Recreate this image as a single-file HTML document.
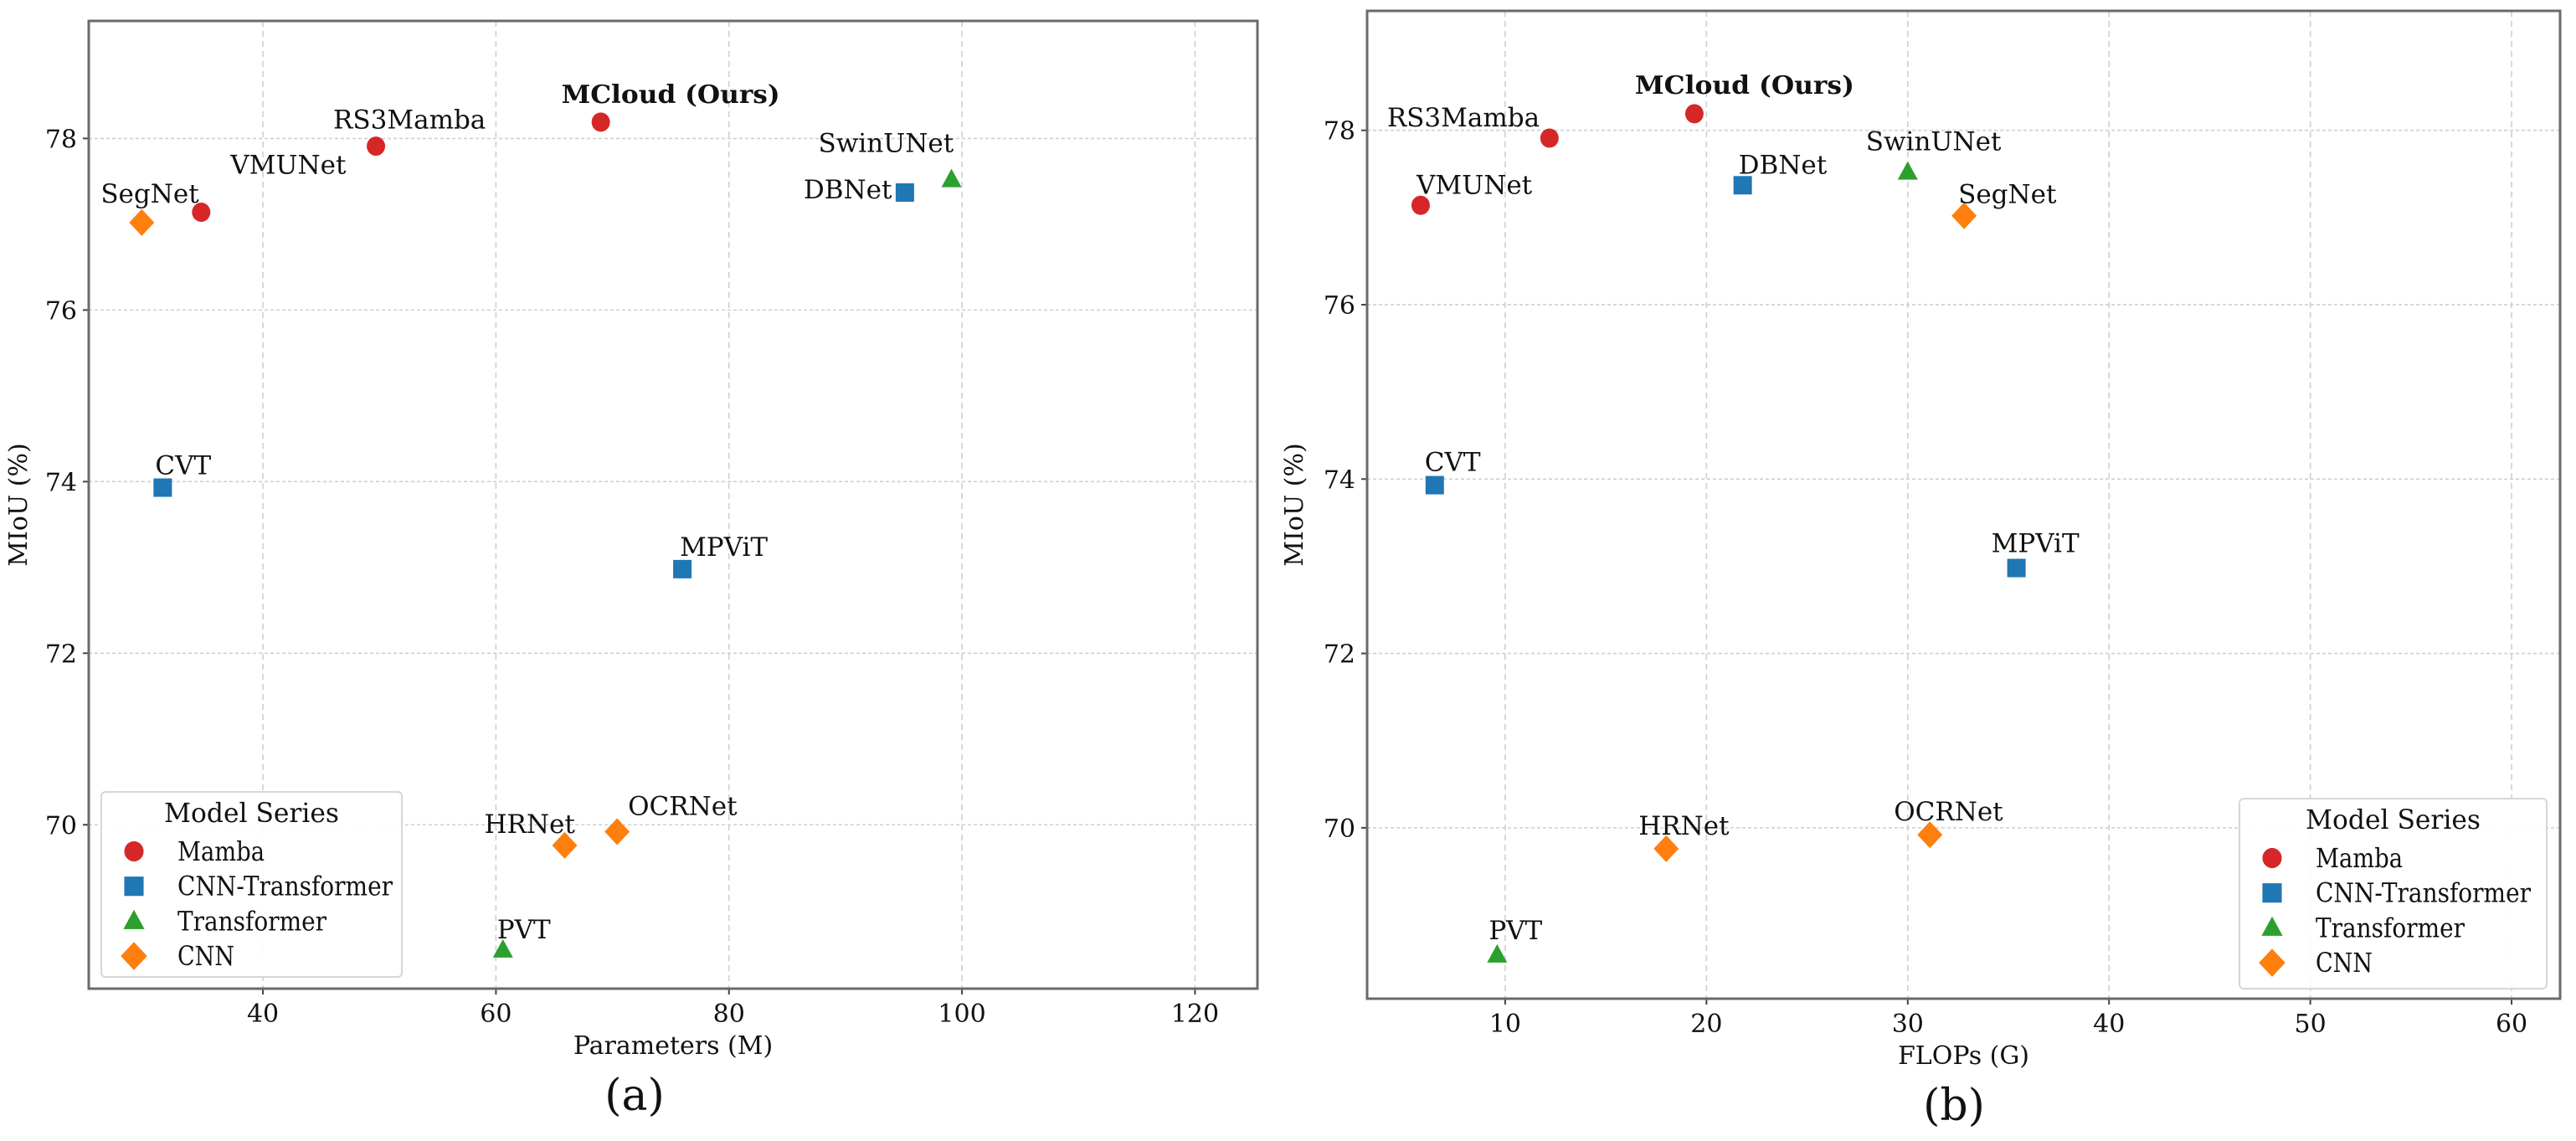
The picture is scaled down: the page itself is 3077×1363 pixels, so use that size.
<!DOCTYPE html>
<html><head><meta charset="utf-8"><style>
html,body{margin:0;padding:0;background:#fff;}
svg text{font-family:"DejaVu Serif","Liberation Serif",serif;fill:#111;}
</style></head><body>
<svg id="chart" width="3077" height="1358" viewBox="0 0 3077 1358" xmlns="http://www.w3.org/2000/svg">
<rect width="3077" height="1358" fill="#fff"/>
</svg>
<script>
const names = ["VMUNet","RS3Mamba","MCloud (Ours)","DBNet","CVT","MPViT","SwinUNet","PVT","SegNet","HRNet","OCRNet"];
const seriesOf = ["Mamba","Mamba","Mamba","CNN-Transformer","CNN-Transformer","CNN-Transformer","Transformer","Transformer","CNN","CNN","CNN"];
const paramsM = [34.7,49.7,69.0,95.1,31.4,76.0,99.1,60.6,29.6,65.9,70.4];
const flopsG = [5.8,12.2,19.4,21.8,6.5,35.4,30.0,9.6,32.8,18.0,31.1];
const miou = [77.14,77.91,78.19,77.37,73.93,72.98,77.52,68.54,77.02,69.76,69.92];
const legendSeries = ["Mamba","CNN-Transformer","Transformer","CNN"];
const xTicksA = [40,60,80,100,120];
const xTicksB = [10,20,30,40,50,60];
const yTicks = [70,72,74,76,78];
// label offsets (styling)
const offA = [[35,-46],[-51,-21],[-47,-23],[-121,7],[-9,-16],[-3,-16],[-159,-33],[-7,-14],[-49,-24],[-96,-15],[13,-20]];
const offB = [[-5,-14],[-194,-14],[-71,-24],[-5,-14],[-12,-17],[-30,-19],[-50,-26],[-10,-19],[-7,-15],[-33,-17],[-43,-17]];
const legendTextLen = [104,257,178,68];

const NS="http://www.w3.org/2000/svg";
const svg=document.getElementById('chart');
const colors={"Mamba":"#d62728","CNN-Transformer":"#1f77b4","Transformer":"#2ca02c","CNN":"#ff7f0e"};
function mk(tag,attrs,parent){const e=document.createElementNS(NS,tag);for(const k in attrs)e.setAttribute(k,attrs[k]);(parent||svg).appendChild(e);return e;}
function marker(series,cx,cy,g,scale){
  const s=scale||1;let e;const c=colors[series];
  if(series==="Mamba"){e=mk('ellipse',{cx:cx,cy:cy,rx:11*s,ry:11.5*s,fill:c},g);}
  else if(series==="CNN-Transformer"){e=mk('rect',{x:cx-11*s,y:cy-11*s,width:22*s,height:22*s,fill:c},g);}
  else if(series==="Transformer"){e=mk('polygon',{points:`${cx},${cy-13*s} ${cx+12*s},${cy+9*s} ${cx-12*s},${cy+9*s}`,fill:c},g);}
  else {e=mk('polygon',{points:`${cx},${cy-16*s} ${cx+15*s},${cy} ${cx},${cy+16*s} ${cx-15*s},${cy}`,fill:c},g);}
  return e;
}
function panel(p){
  const g=mk('g',{});
  
  
  const X=v=>p.x0+(v-p.xmin)/(p.xmax-p.xmin)*(p.x1-p.x0);
  const Y=v=>p.y1-(v-p.ymin)/(p.ymax-p.ymin)*(p.y1-p.y0);
  p.xTicks.forEach(t=>{
    const l=mk('line',{x1:X(t),x2:X(t),y1:p.y0,y2:p.y1,stroke:"#cfcfcf","stroke-width":1.6,"stroke-dasharray":"7,5"},g);
    
    
    mk('line',{x1:X(t),x2:X(t),y1:p.y1,y2:p.y1+7,stroke:"#444","stroke-width":2},g);
    const tx=mk('text',{x:X(t),y:p.y1+40,"font-size":30,"text-anchor":"middle"},g);
    tx.textContent=t;
    
    
  });
  yTicks.forEach(t=>{
    const l=mk('line',{x1:p.x0,x2:p.x1,y1:Y(t),y2:Y(t),stroke:"#cfcfcf","stroke-width":1.6,"stroke-dasharray":"4,3"},g);
    
    
    mk('line',{x1:p.x0-7,x2:p.x0,y1:Y(t),y2:Y(t),stroke:"#444","stroke-width":2},g);
    const tx=mk('text',{x:p.x0-14,y:Y(t)+11,"font-size":30,"text-anchor":"end"},g);
    tx.textContent=t;
    
    
  });
  const fr=mk('rect',{x:p.x0,y:p.y0,width:p.x1-p.x0,height:p.y1-p.y0,fill:"none",stroke:"#6a6a6a","stroke-width":3},g);
  
  
  names.forEach((n,i)=>{
    const cx=X(p.xs[i]),cy=Y(miou[i]);
    const m=marker(seriesOf[i],cx,cy,g);
    
    
    const bold=n.startsWith("MCloud");
    const t=mk('text',{x:cx+p.off[i][0],y:cy+p.off[i][1],"font-size":bold?30:31,"font-weight":bold?"bold":"normal"},g);
    if(bold){t.setAttribute('textLength',p.boldLen);t.setAttribute('lengthAdjust','spacingAndGlyphs');}
    t.textContent=n;
    
    
  });
  const xl=mk('text',{x:(p.x0+p.x1)/2,y:p.y1+78,"font-size":30,"text-anchor":"middle"},g);
  xl.textContent=p.xlabel;
  
  
  const yl=mk('text',{x:0,y:0,"font-size":30,"text-anchor":"middle",transform:`translate(${p.ylx},${(p.y0+p.y1)/2}) rotate(-90)`},g);
  yl.textContent="MIoU (%)";
  
  
  const cap=mk('text',{x:p.capX,y:p.capY,"font-size":52,"text-anchor":"middle","font-family":"Liberation Serif, serif"},g);
  cap.textContent=p.caption;
  
  
  const lg=mk('g',{},g);
  
  
  const L=p.legend;
  mk('rect',{x:L.x,y:L.y,width:L.w,height:L.h,rx:5,fill:"#fff","fill-opacity":0.9,stroke:"#d6d6d6","stroke-width":2},lg);
  const tt=mk('text',{x:L.x+L.w/2,y:L.y+36,"font-size":32,"text-anchor":"middle",textLength:209,lengthAdjust:"spacingAndGlyphs"},lg);
  tt.textContent="Model Series";
  
  
  legendSeries.forEach((s,i)=>{
    const yy=L.y+71+i*41.7;
    const m=marker(s,L.x+39,yy,lg,1.05);
    
    
    const t=mk('text',{x:L.x+91,y:yy+11,"font-size":32,textLength:legendTextLen[i],lengthAdjust:"spacingAndGlyphs"},lg);
    t.textContent=s;
    
    
  });
}
panel({name:'panel-a-params',x0:106,x1:1502,y0:25,y1:1181,xmin:25.05,xmax:125.36,ymin:68.09,ymax:79.37,
  xTicks:xTicksA,xs:paramsM,off:offA,boldLen:261,xlabel:"Parameters (M)",ylx:32,caption:"(a)",capX:758,capY:1326,
  legend:{x:121,y:946,w:359,h:221}});
panel({name:'panel-b-flops',x0:1633,x1:3058,y0:13,y1:1193,xmin:3.14,xmax:62.41,ymin:68.04,ymax:79.37,
  xTicks:xTicksB,xs:flopsG,off:offB,boldLen:262,xlabel:"FLOPs (G)",ylx:1556,caption:"(b)",capX:2334,capY:1338,
  legend:{x:2675,y:954,w:367,h:227}});
</script>
</body></html>
